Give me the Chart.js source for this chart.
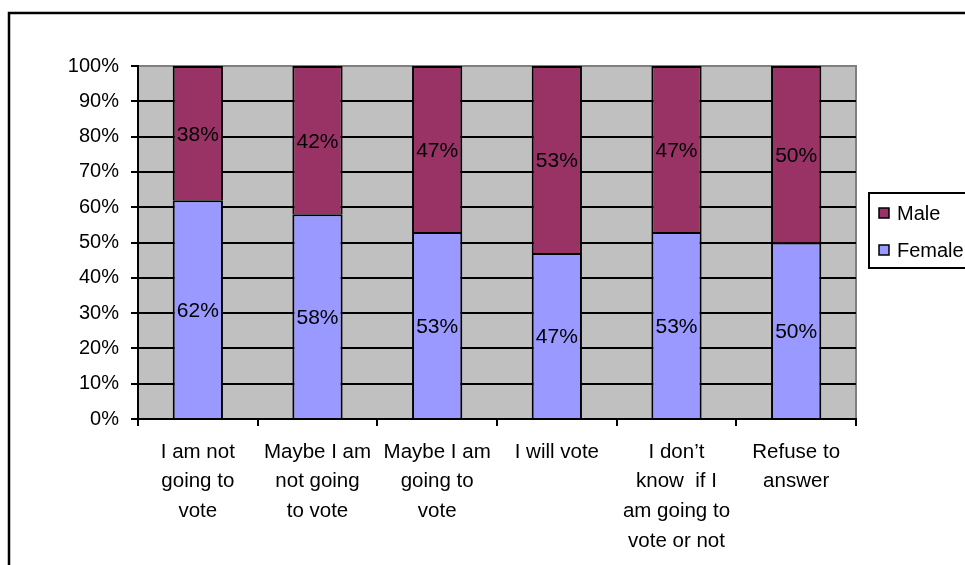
<!DOCTYPE html>
<html>
<head>
<meta charset="utf-8">
<script src="https://cdn.jsdelivr.net/npm/chart.js@4"></script>
<style>
  html, body { margin: 0; padding: 0; background: #fff; }
  #wrap { width: 965px; height: 565px; }
</style>
</head>
<body>
<div id="wrap"><canvas id="chart" width="965" height="565"></canvas></div>
<script>
var categories = [
    ['I am not', 'going to', 'vote'],
    ['Maybe I am', 'not going', 'to vote'],
    ['Maybe I am', 'going to', 'vote'],
    ['I will vote'],
    ['I don\u2019t', 'know  if I', 'am going to', 'vote or not'],
    ['Refuse to', 'answer']
];
var femaleValues = [62, 58, 53, 47, 53, 50];
var maleValues = [38, 42, 47, 53, 47, 50];
var seriesNames = ['Female', 'Male'];
var seriesColors = ['#9999FF', '#993366'];

var FONT = 'Liberation Sans, Arial, sans-serif';

// frame, grey plot area
var backgroundPlugin = {
    id: 'background',
    beforeDraw: function (chart) {
        var ctx = chart.ctx;
        var a = chart.chartArea;
        ctx.save();
        ctx.fillStyle = '#C0C0C0';
        ctx.fillRect(a.left, a.top, a.right - a.left, a.bottom - a.top);
        ctx.strokeStyle = '#808080';
        ctx.lineWidth = 2;
        ctx.strokeRect(a.left, a.top, a.right - a.left, a.bottom - a.top);
        ctx.strokeStyle = '#000';
        ctx.lineWidth = 2.5;
        ctx.strokeRect(9, 13, 1100, 1100);
        ctx.restore();
    }
};

// value labels centred in every segment
var segmentLabels = {
    id: 'segmentLabels',
    afterDatasetsDraw: function (chart) {
        var ctx = chart.ctx;
        ctx.save();
        ctx.font = '21px ' + FONT;
        ctx.fillStyle = '#000';
        ctx.textAlign = 'center';
        ctx.textBaseline = 'middle';
        chart.data.datasets.forEach(function (ds, i) {
            var meta = chart.getDatasetMeta(i);
            meta.data.forEach(function (bar, j) {
                var p = bar.getProps(['x', 'y', 'base'], true);
                ctx.fillText(ds.data[j] + '%', p.x, (p.y + p.base) / 2 + 2);
            });
        });
        ctx.restore();
    }
};

// legend box on the right, Male listed first
var legendBox = {
    id: 'legendBox',
    afterDraw: function (chart) {
        var ctx = chart.ctx;
        ctx.save();
        ctx.strokeStyle = '#000';
        ctx.lineWidth = 2;
        ctx.strokeRect(869, 193, 200, 75);
        ctx.font = '20px ' + FONT;
        ctx.textBaseline = 'middle';
        ctx.textAlign = 'left';
        var ds = chart.data.datasets.slice().reverse();
        ds.forEach(function (d, k) {
            var y = 213 + k * 37;
            ctx.fillStyle = d.backgroundColor;
            ctx.fillRect(879, y - 5, 10, 10);
            ctx.lineWidth = 1.5;
            ctx.strokeRect(879, y - 5, 10, 10);
            ctx.fillStyle = '#000';
            ctx.fillText(d.label, 897, y + 1);
        });
        ctx.restore();
    }
};

var ctx = document.getElementById('chart');
new Chart(ctx, {
    type: 'bar',
    data: {
        labels: categories,
        datasets: [
            {
                label: seriesNames[0],
                data: femaleValues,
                backgroundColor: seriesColors[0],
                borderColor: '#000',
                borderWidth: 2
            },
            {
                label: seriesNames[1],
                data: maleValues,
                backgroundColor: seriesColors[1],
                borderColor: '#000',
                borderWidth: 2
            }
        ]
    },
    options: {
        responsive: false,
        animation: false,
        devicePixelRatio: 1,
        layout: {padding: {left: 0, top: 66, right: 109, bottom: 0}},
        datasets: {bar: {barPercentage: 0.42, categoryPercentage: 1}},
        plugins: {
            legend: {display: false},
            tooltip: {enabled: false}
        },
        scales: {
            x: {
                stacked: true,
                grid: {
                    drawOnChartArea: false,
                    color: '#000',
                    lineWidth: 2,
                    tickLength: 7
                },
                border: {color: '#000', width: 2},
                ticks: {
                    color: '#000',
                    padding: 11,
                    maxRotation: 0,
                    autoSkip: false,
                    font: {family: FONT, size: 20.5, lineHeight: '29.7px'}
                },
                afterFit: function (scale) {
                    scale.height = 146;
                }
            },
            y: {
                stacked: true,
                min: 0,
                max: 100,
                grid: {
                    color: function (c) {
                        return c.tick && c.tick.value === 100 ? '#808080' : '#000';
                    },
                    lineWidth: 2,
                    tickLength: 7,
                    tickColor: '#000'
                },
                border: {color: '#000', width: 2},
                ticks: {
                    stepSize: 10,
                    color: '#000',
                    padding: 12,
                    font: {family: FONT, size: 20},
                    callback: function (v) { return v + '%'; }
                },
                afterFit: function (scale) {
                    scale.width = 138;
                }
            }
        }
    },
    plugins: [backgroundPlugin, segmentLabels, legendBox]
});
</script>
</body>
</html>
